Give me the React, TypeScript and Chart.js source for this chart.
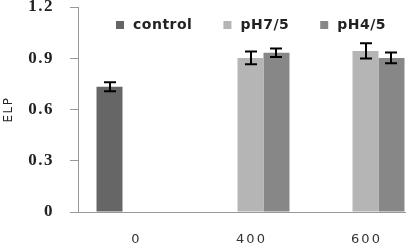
import React, { useEffect, useRef } from "react";
import { Chart, registerables } from "chart.js";

Chart.register(...registerables);

const categories = ["0", "400", "600"];
const seriesNames = ["control", "pH7/5", "pH4/5"];
const controlValues = [0.733, null, null];
const ph7Values = [null, 0.902, 0.943];
const ph4Values = [null, 0.932, 0.902];
const controlErrors = [0.026, null, null];
const ph7Errors = [null, 0.037, 0.045];
const ph4Errors = [null, 0.025, 0.031];
const yTickLabels = ["0", "0.3", "0.6", "0.9", "1.2"];
const yTitle = "ELP";

const colors = ["#666666", "#b5b5b5", "#878787"];

const errorBarPlugin = {
  id: "errorBars",
  afterDatasetsDraw(chart: any) {
    const ctx = chart.ctx;
    const y = chart.scales.y;
    ctx.save();
    ctx.strokeStyle = "#000000";
    ctx.lineWidth = 2;
    chart.data.datasets.forEach((ds: any, i: number) => {
      const meta = chart.getDatasetMeta(i);
      meta.data.forEach((el: any, j: number) => {
        const v = ds.data[j];
        const e = ds.errors[j];
        if (v == null || e == null) return;
        const x = Math.round(el.x);
        const top = y.getPixelForValue(v + e);
        const bot = y.getPixelForValue(v - e);
        const cap = 6;
        ctx.beginPath();
        ctx.moveTo(x, top);
        ctx.lineTo(x, bot);
        ctx.moveTo(x - cap, top);
        ctx.lineTo(x + cap, top);
        ctx.moveTo(x - cap, bot);
        ctx.lineTo(x + cap, bot);
        ctx.stroke();
      });
    });
    ctx.restore();
  },
};

const textPlugin = {
  id: "customText",
  beforeDraw(chart: any) {
    (chart.ctx as any).letterSpacing = "1.5px";
  },
  afterDraw(chart: any) {
    const ctx = chart.ctx;
    const area = chart.chartArea;
    ctx.save();
    // legend
    ctx.font = "bold 14px 'DejaVu Sans'";
    (ctx as any).letterSpacing = "0.5px";
    ctx.textBaseline = "middle";
    ctx.textAlign = "left";
    let lx = area.left + 38;
    const ly = 25;
    seriesNames.forEach((name, i) => {
      ctx.fillStyle = colors[i];
      ctx.fillRect(lx, ly - 4, 8, 8);
      ctx.fillStyle = "#222222";
      ctx.fillText(name, lx + 17, ly);
      lx += 17 + ctx.measureText(name).width + 31;
    });
    // x labels
    const xs = chart.scales.x;
    ctx.font = "13px 'DejaVu Sans'";
    (ctx as any).letterSpacing = "2px";
    ctx.textAlign = "center";
    ctx.fillStyle = "#333333";
    categories.forEach((c, i) => {
      const px = xs.getPixelForTick(i);
      ctx.fillText(c, px + 1, 240);
    });
    ctx.restore();
  },
};

export default function App() {
  const ref = useRef<HTMLCanvasElement | null>(null);
  useEffect(() => {
    if (!ref.current) return;
    const chart = new Chart(ref.current, {
      type: "bar",
      data: {
        labels: categories,
        datasets: [
          { label: seriesNames[0], data: controlValues, errors: controlErrors, backgroundColor: colors[0] } as any,
          { label: seriesNames[1], data: ph7Values, errors: ph7Errors, backgroundColor: colors[1] } as any,
          { label: seriesNames[2], data: ph4Values, errors: ph4Errors, backgroundColor: colors[2] } as any,
        ],
      },
      options: {
        responsive: false,
        animation: false,
        devicePixelRatio: 1,
        layout: { padding: { left: 0, top: 7, right: 0, bottom: 0 } },
        datasets: {
          bar: { categoryPercentage: 0.678, barPercentage: 1.0, borderWidth: 0 },
        },
        plugins: {
          legend: { display: false },
          tooltip: { enabled: false },
        },
        scales: {
          x: {
            grid: { display: false },
            border: { display: true, color: "#999999", width: 1 },
            ticks: { display: false },
            afterFit(scale: any) {
              scale.height = 35;
              scale.paddingLeft = 0;
              scale.paddingRight = 0;
            },
          },
          y: {
            min: 0,
            max: 1.2,
            grid: { drawOnChartArea: false, drawTicks: true, tickLength: 8, color: "#999999" },
            border: { display: true, color: "#999999", width: 1 },
            ticks: {
              stepSize: 0.3,
              padding: 16,
              color: "#222222",
              font: { family: "'Liberation Serif'", size: 17, weight: "bold" },
              callback: (_v: any, i: number) => yTickLabels[i],
            },
            title: {
              display: true,
              text: yTitle,
              color: "#222222",
              font: { family: "'DejaVu Sans'", size: 12 },
              padding: { top: 2, bottom: 0 },
            },
            afterFit(scale: any) {
              scale.width = 78;
              scale.paddingTop = 0;
              scale.paddingBottom = 0;
            },
          },
        },
      },
      plugins: [errorBarPlugin, textPlugin],
    });
    return () => chart.destroy();
  }, []);
  return (
    <div style={{ position: "absolute", left: 0, top: 0, width: 406, height: 247, overflow: "hidden", background: "#fff" }}>
      <canvas ref={ref} width={423} height={247} style={{ display: "block", width: 423, height: 247 }} />
    </div>
  );
}
